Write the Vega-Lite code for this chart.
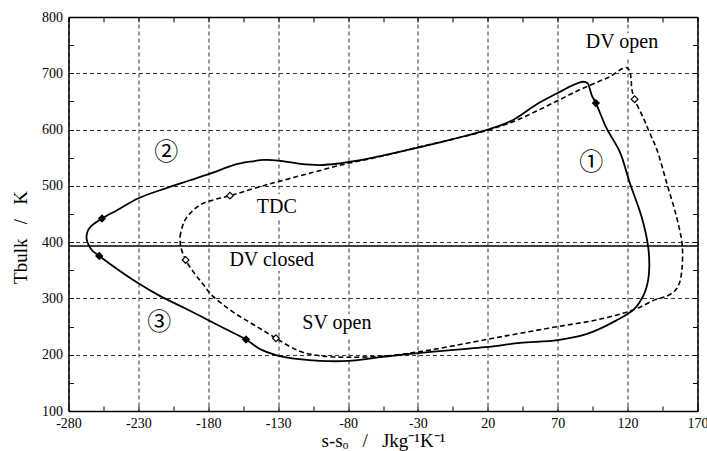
{
  "$schema": "https://vega.github.io/schema/vega-lite/v6.json",
  "width": 629,
  "height": 394,
  "autosize": {"type": "none"},
  "padding": {"left": 68.5, "top": 17, "right": 9.5, "bottom": 40},
  "background": "white",
  "config": {
    "view": {"stroke": null},
    "font": "Liberation Serif",
    "axis": {"labelFont": "Liberation Serif", "titleFont": "Liberation Serif", "labelColor": "black", "titleColor": "black", "domainColor": "black", "tickColor": "black", "titleFontWeight": "normal"}
  },
  "datasets": {
    "solid": [
      {"o":0,"s":-265,"T":392},{"o":1,"s":-267,"T":405},{"o":2,"s":-266.5,"T":418},{"o":3,"s":-264,"T":428},
      {"o":4,"s":-256,"T":442},{"o":5,"s":-245,"T":457},{"o":6,"s":-230,"T":478},{"o":7,"s":-210,"T":496},
      {"o":8,"s":-193,"T":510},{"o":9,"s":-175,"T":525},{"o":10,"s":-162,"T":537},{"o":11,"s":-150,"T":543},
      {"o":12,"s":-140,"T":546},{"o":13,"s":-130,"T":545},{"o":14,"s":-114,"T":539},{"o":15,"s":-100,"T":537},
      {"o":16,"s":-86,"T":540},{"o":17,"s":-70,"T":546},{"o":18,"s":-57,"T":553},{"o":19,"s":-30,"T":568},
      {"o":20,"s":-5,"T":583},{"o":21,"s":20,"T":600},{"o":22,"s":38,"T":617},{"o":23,"s":55,"T":645},
      {"o":24,"s":70,"T":665},{"o":25,"s":81,"T":679},{"o":26,"s":88,"T":685},{"o":27,"s":91.5,"T":682},
      {"o":28,"s":93,"T":672},{"o":29,"s":94.5,"T":660},{"o":30,"s":97.3,"T":647},{"o":31,"s":105,"T":602},
      {"o":32,"s":114.5,"T":560},{"o":33,"s":121.6,"T":505},{"o":34,"s":130,"T":445},{"o":35,"s":134.7,"T":392},
      {"o":36,"s":135.5,"T":356},{"o":37,"s":134.7,"T":333},{"o":38,"s":132,"T":309},{"o":39,"s":125,"T":282},
      {"o":40,"s":112,"T":261},{"o":41,"s":91,"T":237},{"o":42,"s":70,"T":226},{"o":43,"s":43,"T":221},
      {"o":44,"s":20,"T":214},{"o":45,"s":-30,"T":203},{"o":46,"s":-55,"T":196},{"o":47,"s":-80,"T":189},
      {"o":48,"s":-100,"T":189},{"o":49,"s":-115,"T":192},{"o":50,"s":-131,"T":199},{"o":51,"s":-143,"T":210},
      {"o":52,"s":-153,"T":227},{"o":53,"s":-168,"T":246},{"o":54,"s":-182,"T":264},{"o":55,"s":-197,"T":283},
      {"o":56,"s":-215,"T":305},{"o":57,"s":-230,"T":327},{"o":58,"s":-245,"T":352},{"o":59,"s":-258,"T":375.5},
      {"o":60,"s":-263,"T":385},{"o":61,"s":-265,"T":392}
    ],
    "dashed": [
      {"o":0,"s":-200.2,"T":410},{"o":1,"s":-196.7,"T":439},{"o":2,"s":-186,"T":466},{"o":3,"s":-175,"T":476},
      {"o":4,"s":-164.5,"T":482.6},{"o":5,"s":-143,"T":498.6},{"o":6,"s":-130,"T":507.5},{"o":7,"s":-105,"T":524},
      {"o":8,"s":-80,"T":540},{"o":9,"s":-57,"T":552},{"o":10,"s":-30,"T":568.6},{"o":11,"s":-5,"T":583},
      {"o":12,"s":20,"T":599},{"o":13,"s":38,"T":614},{"o":14,"s":55,"T":633},{"o":15,"s":72,"T":654},
      {"o":16,"s":86,"T":671},{"o":17,"s":99,"T":685},{"o":18,"s":108,"T":695},{"o":19,"s":116,"T":708},
      {"o":20,"s":119.5,"T":710},{"o":21,"s":121.5,"T":704},{"o":22,"s":122.5,"T":690},{"o":23,"s":123,"T":672},
      {"o":24,"s":125,"T":654},{"o":25,"s":131,"T":622},{"o":26,"s":136,"T":593},{"o":27,"s":141,"T":564},
      {"o":28,"s":148,"T":505},{"o":29,"s":155,"T":445},{"o":30,"s":158.6,"T":404},{"o":31,"s":159.3,"T":386},
      {"o":32,"s":158.8,"T":350},{"o":33,"s":157,"T":327},{"o":34,"s":154,"T":314},{"o":35,"s":148,"T":304},
      {"o":36,"s":140,"T":298},{"o":37,"s":124.5,"T":280},{"o":38,"s":98,"T":262},{"o":39,"s":70,"T":250},
      {"o":40,"s":43,"T":238},{"o":41,"s":20,"T":227.5},{"o":42,"s":-21,"T":208.5},{"o":43,"s":-52,"T":198},
      {"o":44,"s":-80,"T":195.5},{"o":45,"s":-100,"T":198},{"o":46,"s":-112,"T":204},{"o":47,"s":-122,"T":215},
      {"o":48,"s":-131.6,"T":229.3},{"o":49,"s":-140,"T":242},{"o":50,"s":-150,"T":257},{"o":51,"s":-160,"T":272},
      {"o":52,"s":-170,"T":290},{"o":53,"s":-178,"T":307},{"o":54,"s":-184,"T":326},{"o":55,"s":-190,"T":345},
      {"o":56,"s":-196.2,"T":368.4},{"o":57,"s":-199.7,"T":392},{"o":58,"s":-200.2,"T":410}
    ],
    "markers": [
      {"kind":"filled","s":97.3,"T":647},{"kind":"filled","s":-256,"T":442},{"kind":"filled","s":-258,"T":375.5},{"kind":"filled","s":-153,"T":227},
      {"kind":"open","s":125,"T":654},{"kind":"open","s":-164.5,"T":482.6},{"kind":"open","s":-196.2,"T":368.4},{"kind":"open","s":-131.6,"T":229.3}
    ],
    "labels": [
      {"s":116,"T":756,"text":"DV open"},{"s":-131,"T":463,"text":"TDC"},{"s":-134.6,"T":368,"text":"DV closed"},{"s":-88,"T":257,"text":"SV open"}
    ],
    "circled": [
      {"s":94,"T":540,"text":"①"},{"s":-210,"T":558,"text":"②"},{"s":-215,"T":257,"text":"③"}
    ],
    "hline": [{"T":393}]
  },
  "resolve": {"axis": {"x": "independent", "y": "independent"}},
  "layer": [
    {
      "data": {"name": "solid"},
      "mark": {"type": "line", "color": "black", "strokeWidth": 1.8, "interpolate": "catmull-rom"},
      "encoding": {
        "x": {"field": "s", "type": "quantitative", "scale": {"domain": [-280, 170], "nice": false, "zero": false},
          "axis": {"orient": "bottom", "values": [-280,-230,-180,-130,-80,-30,20,70,120,170], "labelExpr": "'' + datum.value", "grid": true, "gridDash": [4,3], "gridColor": "#333", "gridWidth": 1, "ticks": false, "domain": false, "labelFont": "Liberation Serif", "labelFontSize": 14, "labelColor": "#000000", "labelPadding": 5, "labelFlush": false, "labelOverlap": false,
            "title": "s-sₒ\u00a0\u00a0\u00a0/\u00a0\u00a0\u00a0Jkg⁻¹K⁻¹", "titleFontSize": 19, "titleColor": "#000000", "titleY": 35, "titleBaseline": "alphabetic"}},
        "y": {"field": "T", "type": "quantitative", "scale": {"domain": [100, 800], "nice": false, "zero": false},
          "axis": {"orient": "left", "values": [100,200,300,400,500,600,700,800], "labelExpr": "'' + datum.value", "grid": true, "gridDash": [4,3], "gridColor": "#333", "gridWidth": 1, "ticks": false, "domain": false, "labelFont": "Liberation Serif", "labelFontSize": 14, "labelColor": "#000000", "labelPadding": 6, "labelFlush": false, "labelOverlap": false,
            "title": "Tbulk\u00a0\u00a0\u00a0/\u00a0\u00a0\u00a0K", "titleFontSize": 19, "titleColor": "#000000", "titleX": -42, "titleY": 220, "titleAngle": -90, "titleBaseline": "alphabetic", "titleAlign": "center"}},
        "order": {"field": "o", "type": "quantitative"}
      }
    },
    {
      "data": {"name": "dashed"},
      "mark": {"type": "line", "color": "black", "strokeWidth": 1.6, "strokeDash": [5, 3], "interpolate": "catmull-rom"},
      "encoding": {
        "x": {"field": "s", "type": "quantitative",
          "axis": {"orient": "bottom", "values": [-280,-255,-230,-205,-180,-155,-130,-105,-80,-55,-30,-5,20,45,70,95,120,145,170], "grid": false, "ticks": true, "tickSize": -5, "tickWidth": 1, "labels": false, "domain": true, "domainWidth": 1.5, "title": null}},
        "y": {"field": "T", "type": "quantitative",
          "axis": {"orient": "left", "values": [100,150,200,250,300,350,400,450,500,550,600,650,700,750,800], "grid": false, "ticks": true, "tickSize": -5, "tickWidth": 1, "labels": false, "domain": true, "domainWidth": 1.5, "title": null}},
        "order": {"field": "o", "type": "quantitative"}
      }
    },
    {
      "data": {"name": "hline"},
      "mark": {"type": "rule", "color": "black", "strokeWidth": 1.5},
      "encoding": {"y": {"field": "T", "type": "quantitative", "axis": null}}
    },
    {
      "data": {"name": "labels"},
      "mark": {"type": "text", "fontSize": 20, "font": "Liberation Serif", "stroke": "white", "strokeWidth": 10, "fill": "white", "strokeJoin": "round"},
      "encoding": {"x": {"field": "s", "type": "quantitative", "axis": null}, "y": {"field": "T", "type": "quantitative", "axis": null}, "text": {"field": "text"}}
    },
    {
      "data": {"name": "labels"},
      "mark": {"type": "text", "fontSize": 20, "font": "Liberation Serif", "color": "black"},
      "encoding": {"x": {"field": "s", "type": "quantitative", "axis": null}, "y": {"field": "T", "type": "quantitative", "axis": null}, "text": {"field": "text"}}
    },
    {
      "data": {"name": "circled"},
      "mark": {"type": "text", "fontSize": 24, "font": "Noto Sans CJK JP", "stroke": "white", "strokeWidth": 9, "fill": "white", "strokeJoin": "round"},
      "encoding": {"x": {"field": "s", "type": "quantitative", "axis": null}, "y": {"field": "T", "type": "quantitative", "axis": null}, "text": {"field": "text"}}
    },
    {
      "data": {"name": "circled"},
      "mark": {"type": "text", "fontSize": 24, "font": "Noto Sans CJK JP", "color": "black"},
      "encoding": {"x": {"field": "s", "type": "quantitative", "axis": null}, "y": {"field": "T", "type": "quantitative", "axis": null}, "text": {"field": "text"}}
    },
    {
      "data": {"name": "markers"},
      "mark": {"type": "point", "shape": "diamond", "size": 45, "stroke": "black", "strokeWidth": 1.2, "opacity": 1},
      "encoding": {
        "x": {"field": "s", "type": "quantitative",
          "axis": {"orient": "top", "values": [-280,-255,-230,-205,-180,-155,-130,-105,-80,-55,-30,-5,20,45,70,95,120,145,170], "grid": false, "ticks": true, "tickSize": -5, "tickWidth": 1, "labels": false, "domain": true, "domainWidth": 1.5, "title": null}},
        "y": {"field": "T", "type": "quantitative",
          "axis": {"orient": "right", "values": [100,150,200,250,300,350,400,450,500,550,600,650,700,750,800], "grid": false, "ticks": true, "tickSize": -5, "tickWidth": 1, "labels": false, "domain": true, "domainWidth": 1.5, "title": null}},
        "fill": {"field": "kind", "type": "nominal", "scale": {"domain": ["filled", "open"], "range": ["black", "white"]}, "legend": null}
      }
    }
  ]
}
